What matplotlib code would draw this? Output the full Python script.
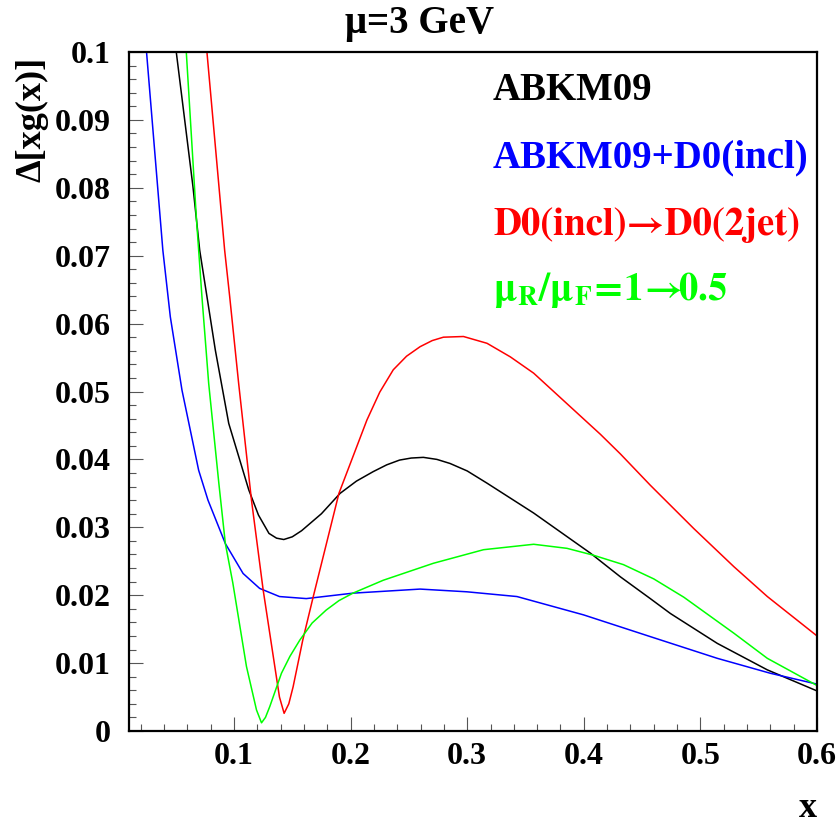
import numpy as np
import matplotlib
matplotlib.use("Agg")
import matplotlib.pyplot as plt
from matplotlib.ticker import MultipleLocator, FuncFormatter

plt.rcParams["font.family"] = ["Liberation Serif", "DejaVu Serif"]
plt.rcParams["font.weight"] = "bold"
plt.rcParams["mathtext.fontset"] = "stix"

# --- gluon uncertainty curves, mu = 3 GeV ---
x_abkm = [0.0505, 0.0648, 0.0706, 0.0768, 0.084, 0.0955, 0.1127, 0.121, 0.130,
          0.1365, 0.1427, 0.150, 0.158, 0.175, 0.191, 0.205, 0.2194, 0.231, 0.242,
          0.252, 0.2624, 0.274, 0.2853, 0.300, 0.317, 0.357, 0.4056, 0.4314, 0.457,
          0.4743, 0.5145, 0.5574, 0.600]
y_abkm = [0.100, 0.0802, 0.0708, 0.0640, 0.0561, 0.0453, 0.0355, 0.0318, 0.0291,
          0.0284, 0.0282, 0.0286, 0.0295, 0.0320, 0.0350, 0.0368, 0.0382, 0.0392, 0.0399,
          0.0402, 0.0403, 0.0400, 0.0394, 0.0383, 0.0365, 0.0321, 0.0262, 0.0227, 0.0195,
          0.0173, 0.0129, 0.0090, 0.0059]

x_incl = [0.025, 0.0319, 0.039, 0.0454, 0.0554, 0.0697, 0.0777, 0.0926, 0.1078,
          0.122, 0.139, 0.162, 0.202, 0.2596, 0.2997, 0.3427, 0.3998, 0.457,
          0.5145, 0.560, 0.600]
y_incl = [0.100, 0.0856, 0.0708, 0.0610, 0.0502, 0.0384, 0.0340, 0.0276, 0.0232,
          0.0210, 0.0198, 0.0195, 0.0203, 0.0209, 0.0205, 0.0198, 0.0171, 0.0139,
          0.0107, 0.0085, 0.0069]

x_2jet = [0.0768, 0.092, 0.0963, 0.104, 0.115, 0.125, 0.135, 0.139, 0.143, 0.147,
          0.1507, 0.159, 0.168, 0.190, 0.214, 0.225, 0.2366, 0.248, 0.2596, 0.270,
          0.2796, 0.2968, 0.317, 0.337, 0.357, 0.3856, 0.4142, 0.4314, 0.457, 0.4944,
          0.5287, 0.5574, 0.600]
y_2jet = [0.100, 0.0708, 0.0640, 0.0512, 0.0340, 0.0208, 0.0095, 0.0050, 0.0026, 0.0040,
          0.0065, 0.0134, 0.0198, 0.0350, 0.0458, 0.0499, 0.0532, 0.0552, 0.0566, 0.0575,
          0.0580, 0.0581, 0.0571, 0.0551, 0.0527, 0.0482, 0.0437, 0.0408, 0.0362, 0.0298,
          0.0242, 0.0198, 0.0140]

x_scale = [0.0591, 0.0677, 0.0697, 0.0725, 0.0783, 0.087, 0.0926, 0.099, 0.1107, 0.1193,
           0.1236, 0.127, 0.1307, 0.1407, 0.148, 0.1565, 0.167, 0.179, 0.190, 0.202,
           0.228, 0.271, 0.314, 0.357, 0.3856, 0.408, 0.434, 0.460, 0.4858, 0.5287,
           0.5574, 0.600]
y_scale = [0.100, 0.0757, 0.0708, 0.0640, 0.0512, 0.0365, 0.0276, 0.0218, 0.0095, 0.0031,
           0.0012, 0.0020, 0.0036, 0.0085, 0.0110, 0.0134, 0.0159, 0.0178, 0.0192, 0.0203,
           0.0222, 0.0247, 0.0267, 0.0275, 0.0269, 0.0259, 0.0245, 0.0224, 0.0197, 0.0144,
           0.0107, 0.0067]

labels = ["ABKM09", "ABKM09+D0(incl)", "D0(incl)\u2192D0(2jet)",
          r"$\mathbf{\mu_R/\mu_F\!=\!1\!\rightarrow\!\!0.5}$"]
colors = ["black", "blue", "red", "#00ff00"]

fig = plt.figure(figsize=(8.39, 8.27), dpi=100)
ax = fig.add_axes([0.1538, 0.1161, 0.8200, 0.8210])

for xs, ys, c in zip([x_abkm, x_incl, x_2jet, x_scale],
                     [y_abkm, y_incl, y_2jet, y_scale], colors):
    ax.plot(xs, ys, color=c, lw=1.1)

ax.set_xlim(0.01, 0.6)
ax.set_ylim(0, 0.1)

ax.xaxis.set_major_locator(MultipleLocator(0.1))
ax.xaxis.set_minor_locator(MultipleLocator(0.02))
ax.yaxis.set_major_locator(MultipleLocator(0.01))
ax.yaxis.set_minor_locator(MultipleLocator(0.002))
ax.yaxis.set_major_formatter(FuncFormatter(lambda v, p: "%g" % round(v, 3)))
ax.xaxis.set_major_formatter(FuncFormatter(lambda v, p: "%g" % round(v, 3)))

ax.tick_params(which="both", direction="in", top=False, right=False, width=0.8,
               color="#555555")
ax.tick_params(which="major", length=10)
ax.tick_params(which="minor", length=5)
ax.tick_params(axis="y", labelsize=23, pad=13)
ax.tick_params(axis="x", labelsize=23, pad=8)
for lab in ax.get_xticklabels() + ax.get_yticklabels():
    lab.set_fontweight("bold")
for s in ax.spines.values():
    s.set_linewidth(1.6)

# legend as coloured text lines
ys_txt = [100, 167, 235, 300]
for lab, c, yp in zip(labels, colors, ys_txt):
    fam = ["STIXGeneral", "Liberation Serif"] if "\u2192" in lab else ["Liberation Serif"]
    fig.text(493 / 839, 1 - yp / 827, lab, color=c, fontsize=28,
             fontweight="bold", family=fam, ha="left", va="baseline")

fig.text(419.5 / 839, 1 - 23 / 827, "\u03bc=3 GeV", fontsize=28,
         fontweight="bold", ha="center", va="center")
fig.text(817 / 839, 1 - 825 / 827, "x", fontsize=26, fontweight="bold",
         ha="right", va="bottom")
fig.text(32 / 839, 1 - 57 / 827, "\u0394[xg(x)]", fontsize=26, fontweight="bold",
         rotation=90, ha="center", va="top")

fig.savefig("out.png", dpi=100)
